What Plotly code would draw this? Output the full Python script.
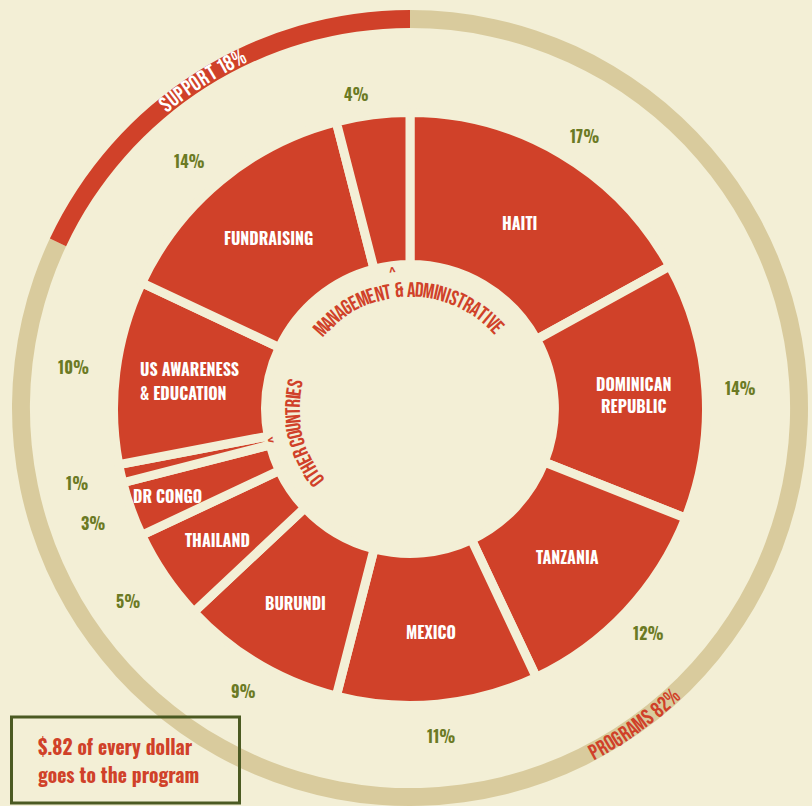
import math
import plotly.graph_objects as go

# ---------------- data ----------------
categories = ["HAITI", "DOMINICAN REPUBLIC", "TANZANIA", "MEXICO", "BURUNDI",
              "THAILAND", "DR CONGO", "OTHER COUNTRIES", "US AWARENESS & EDUCATION",
              "FUNDRAISING", "MANAGEMENT & ADMINISTRATIVE"]
shares = [17, 14, 12, 11, 9, 5, 3, 1, 10, 14, 4]
slice_labels = [["HAITI"], ["DOMINICAN", "REPUBLIC"], ["TANZANIA"], ["MEXICO"], ["BURUNDI"],
                ["THAILAND"], ["DR CONGO"], [], ["US AWARENESS", "& EDUCATION"],
                ["FUNDRAISING"], []]
groups = ["PROGRAMS", "SUPPORT"]
group_shares = [82, 18]
summary_lines = ["$.82 of every dollar", "goes to the program"]

# ---------------- style ----------------
W, H = 812, 806
CX, CY = 410, 409
BG = "#f3efd6"
RED = "#d04129"
BEIGE = "#d9cb9d"
OLIVE = "#6b7a24"
BOX = "#4b5a22"
FONT = "Oswald, Roboto Condensed, sans-serif"
ARCFONT = "Bebas Neue, Oswald, sans-serif"

R_MAIN = 296.5
HOLE_MAIN = 0.487
GAP = 9


def px(x, y):
    return x / W, 1 - y / H


def polar_px(a, r):
    return CX + r * math.cos(math.radians(a)), CY - r * math.sin(math.radians(a))


fig = go.Figure()

# outer ring (programs vs support)
fig.add_trace(go.Pie(
    labels=groups, values=group_shares, sort=False, direction="clockwise", rotation=0,
    hole=0.955, marker=dict(colors=[BEIGE, RED], line=dict(width=0)),
    textinfo="none", hoverinfo="skip", showlegend=False,
    domain=dict(x=[11 / W, 809 / W], y=[0.0, 1 - 10 / H])))

# main donut
fig.add_trace(go.Pie(
    labels=categories, values=shares, sort=False, direction="clockwise", rotation=0,
    hole=HOLE_MAIN, marker=dict(colors=[RED] * len(shares), line=dict(width=GAP, color=BG)),
    textinfo="none", hoverinfo="skip", showlegend=False,
    domain=dict(x=[(CX - R_MAIN) / W, (CX + R_MAIN) / W],
                y=[1 - (CY + R_MAIN) / H, 1 - (CY - R_MAIN) / H])))

annotations = []


def add_lines(lines, x, y, spacing, font, left=None):
    n = len(lines)
    for i, ln in enumerate(lines):
        yy = y + (i - (n - 1) / 2) * spacing
        if left is not None:
            xp, yp = px(left, yy)
            anchor = "left"
        else:
            xp, yp = px(x, yy)
            anchor = "center"
        annotations.append(dict(x=xp, y=yp, xref="paper", yref="paper", text=ln,
                                showarrow=False, xanchor=anchor, yanchor="middle",
                                borderpad=0, font=font))


# slice mid angles derived from the data
total = sum(shares)
mids = []
cum = 0
for v in shares:
    mids.append(90 - (cum + v / 2) / total * 360)
    cum += v

label_r = [216, 224, 216, 224, 225, 233, 258, 0, 225, 222, 0]
label_font = dict(family=FONT, size=16, color="white", weight="bold")
for i, (lines, ang, r) in enumerate(zip(slice_labels, mids, label_r)):
    if not lines:
        continue
    x, y = polar_px(ang, r)
    if i == 8:  # left-aligned two-line label
        add_lines(lines, x, y, 24, label_font, left=139)
    else:
        add_lines(lines, x, y, 22, label_font)

pct_r = [324, 331, 327, 328, 328, 341, 337, 341, 339, 332, 320]
pct_da = [-2, 0, 0, 0, 0, 0, 0, 0, 0, 2, 2.5]
for v, ang, r, da in zip(shares, mids, pct_r, pct_da):
    x, y = polar_px(ang + da, r)
    xx, yy = px(x, y)
    annotations.append(dict(x=xx, y=yy, xref="paper", yref="paper", text=f"{v}%",
                            showarrow=False, xanchor="center", yanchor="middle",
                            borderpad=0,
                            font=dict(family=FONT, size=16, color=OLIVE, weight="bold")))


# curved text, one character per annotation
def cw(c):
    table = {"I": 0.5, " ": 0.4, "1": 0.75, "%": 1.35, "M": 1.25, "W": 1.35, "&": 1.1,
             ".": 0.4}
    return table.get(c, 1.0)


def arc_text(text, center, span, r, size, color, outward=True):
    ws = [cw(c) for c in text]
    tot = sum(ws)
    c0 = 0
    for c, w in zip(text, ws):
        frac = (c0 + w / 2) / tot
        c0 += w
        if c == " ":
            continue
        if outward:
            a = center + span / 2 - frac * span
            rot = 90 - a
        else:
            a = center - span / 2 + frac * span
            rot = -90 - a
        xx, yy = px(*polar_px(a, r))
        annotations.append(dict(x=xx, y=yy, xref="paper", yref="paper", text=c,
                                showarrow=False, textangle=rot,
                                xanchor="center", yanchor="middle",
                                font=dict(family=ARCFONT, size=size, color=color)))


arc_text(f"{groups[1]} {group_shares[1]}%", 122.3, 14.5, 389.5, 22, "white", True)
arc_text(f"{groups[0]} {group_shares[0]}%", -54.6, 15.5, 390, 22, RED, False)
arc_text(categories[10], 90.7, 100, 119, 21, RED, True)
arc_text(categories[7], 192.5, 54, 117, 21, RED, True)

# carets pointing to the small slices
for idx, r in [(10, 137), (7, 140)]:
    a = mids[idx]
    xx, yy = px(*polar_px(a, r))
    annotations.append(dict(x=xx, y=yy, xref="paper", yref="paper", text="^",
                            showarrow=False, textangle=90 - a,
                            xanchor="center", yanchor="middle",
                            font=dict(family=FONT, size=16, color=RED)))

# summary box
add_lines(summary_lines, 0, 760, 28,
          dict(family=FONT, size=19.5, color=RED, weight="bold"), left=37)

fig.update_layout(
    width=W, height=H, margin=dict(l=0, r=0, t=0, b=0),
    paper_bgcolor=BG, plot_bgcolor=BG,
    annotations=annotations,
    shapes=[dict(type="rect", xref="paper", yref="paper",
                 x0=11.5 / W, x1=239.5 / W, y0=1 - 803 / H, y1=1 - 717 / H,
                 line=dict(color=BOX, width=3), fillcolor="rgba(0,0,0,0)")])

fig.write_html("out.html", config={"displayModeBar": False},
               post_script="document.body.style.margin='0';document.body.style.overflow='hidden';")
